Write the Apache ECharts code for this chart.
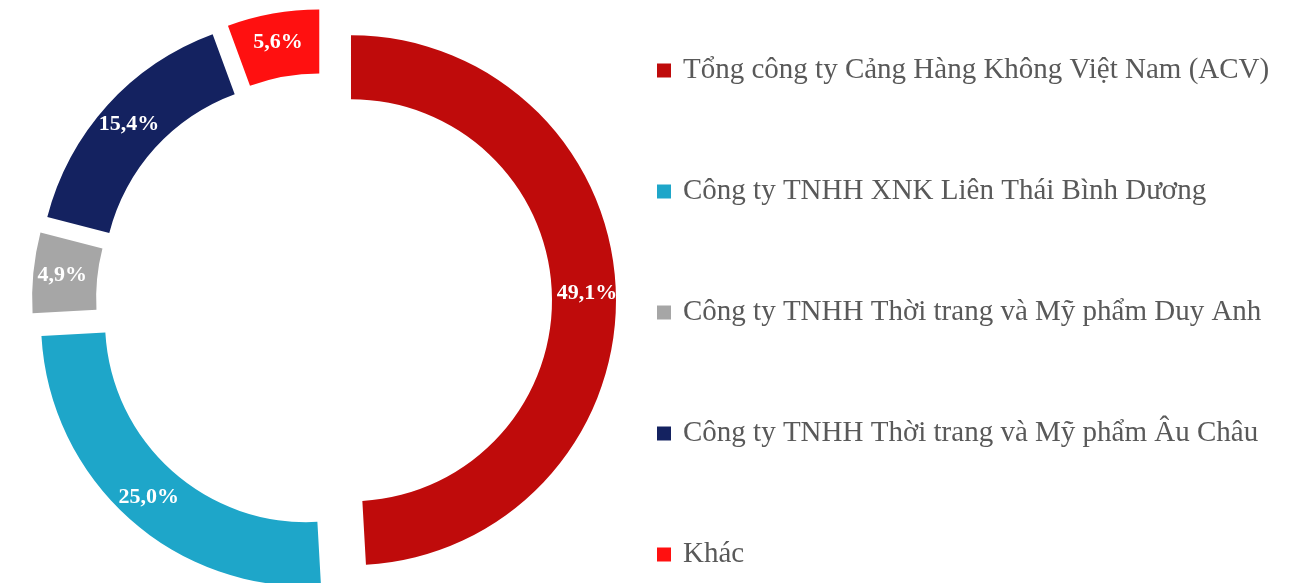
<!DOCTYPE html>
<html>
<head>
<meta charset="utf-8">
<script src="https://cdn.jsdelivr.net/npm/echarts@6/dist/echarts.min.js"></script>
<style>
  html, body { margin: 0; padding: 0; background: #fff; }
  #main { width: 1303px; height: 583px; }
</style>
</head>
<body>
<div id="main"></div>
<script>
var chartDom = document.getElementById('main');
var myChart = echarts.init(chartDom);

// ty le doanh thu theo khach hang (%)
var names = [
    'Tổng công ty Cảng Hàng Không Việt Nam (ACV)',
    'Công ty TNHH XNK Liên Thái Bình Dương',
    'Công ty TNHH Thời trang và Mỹ phẩm Duy Anh',
    'Công ty TNHH Thời trang và Mỹ phẩm Âu Châu',
    'Khác'
];
var values = [49.1, 25.0, 4.9, 15.4, 5.6];
var colors = ['#BF0B0B', '#1EA6C9', '#A6A6A6', '#142260', '#FF1010'];

var serif = '"Liberation Serif", "DejaVu Serif", serif';

var pieData = [];
for (var i = 0; i < names.length; i++) {
    pieData.push({
        name: names[i],
        value: values[i],
        selected: true, // tach tung mieng ra
        itemStyle: { color: colors[i] }
    });
}

var option = {
    animation: false,
    color: colors,
    legend: {
        orient: 'vertical',
        left: 652,
        top: 51,
        icon: 'rect',
        itemWidth: 14,
        itemHeight: 14,
        itemGap: 92,
        selectedMode: false,
        data: names,
        textStyle: {
            fontFamily: serif,
            fontSize: 29,
            color: '#595959',
            padding: [0, 0, 0, 7]
        }
    },
    series: [{
        type: 'pie',
        center: [324, 301],
        radius: [201, 265],
        startAngle: 90,
        clockwise: true,
        selectedMode: 'multiple',
        selectedOffset: 27,
        avoidLabelOverlap: false,
        emphasis: { disabled: true },
        label: {
            show: true,
            position: 'inside',
            offset: [2, 3],
            formatter: function (p) {
                return p.value.toFixed(1).replace('.', ',') + '%';
            },
            color: '#fff',
            fontFamily: serif,
            fontWeight: 'bold',
            fontSize: 22
        },
        labelLine: { show: false },
        data: pieData
    }]
};

option && myChart.setOption(option);
</script>
</body>
</html>
